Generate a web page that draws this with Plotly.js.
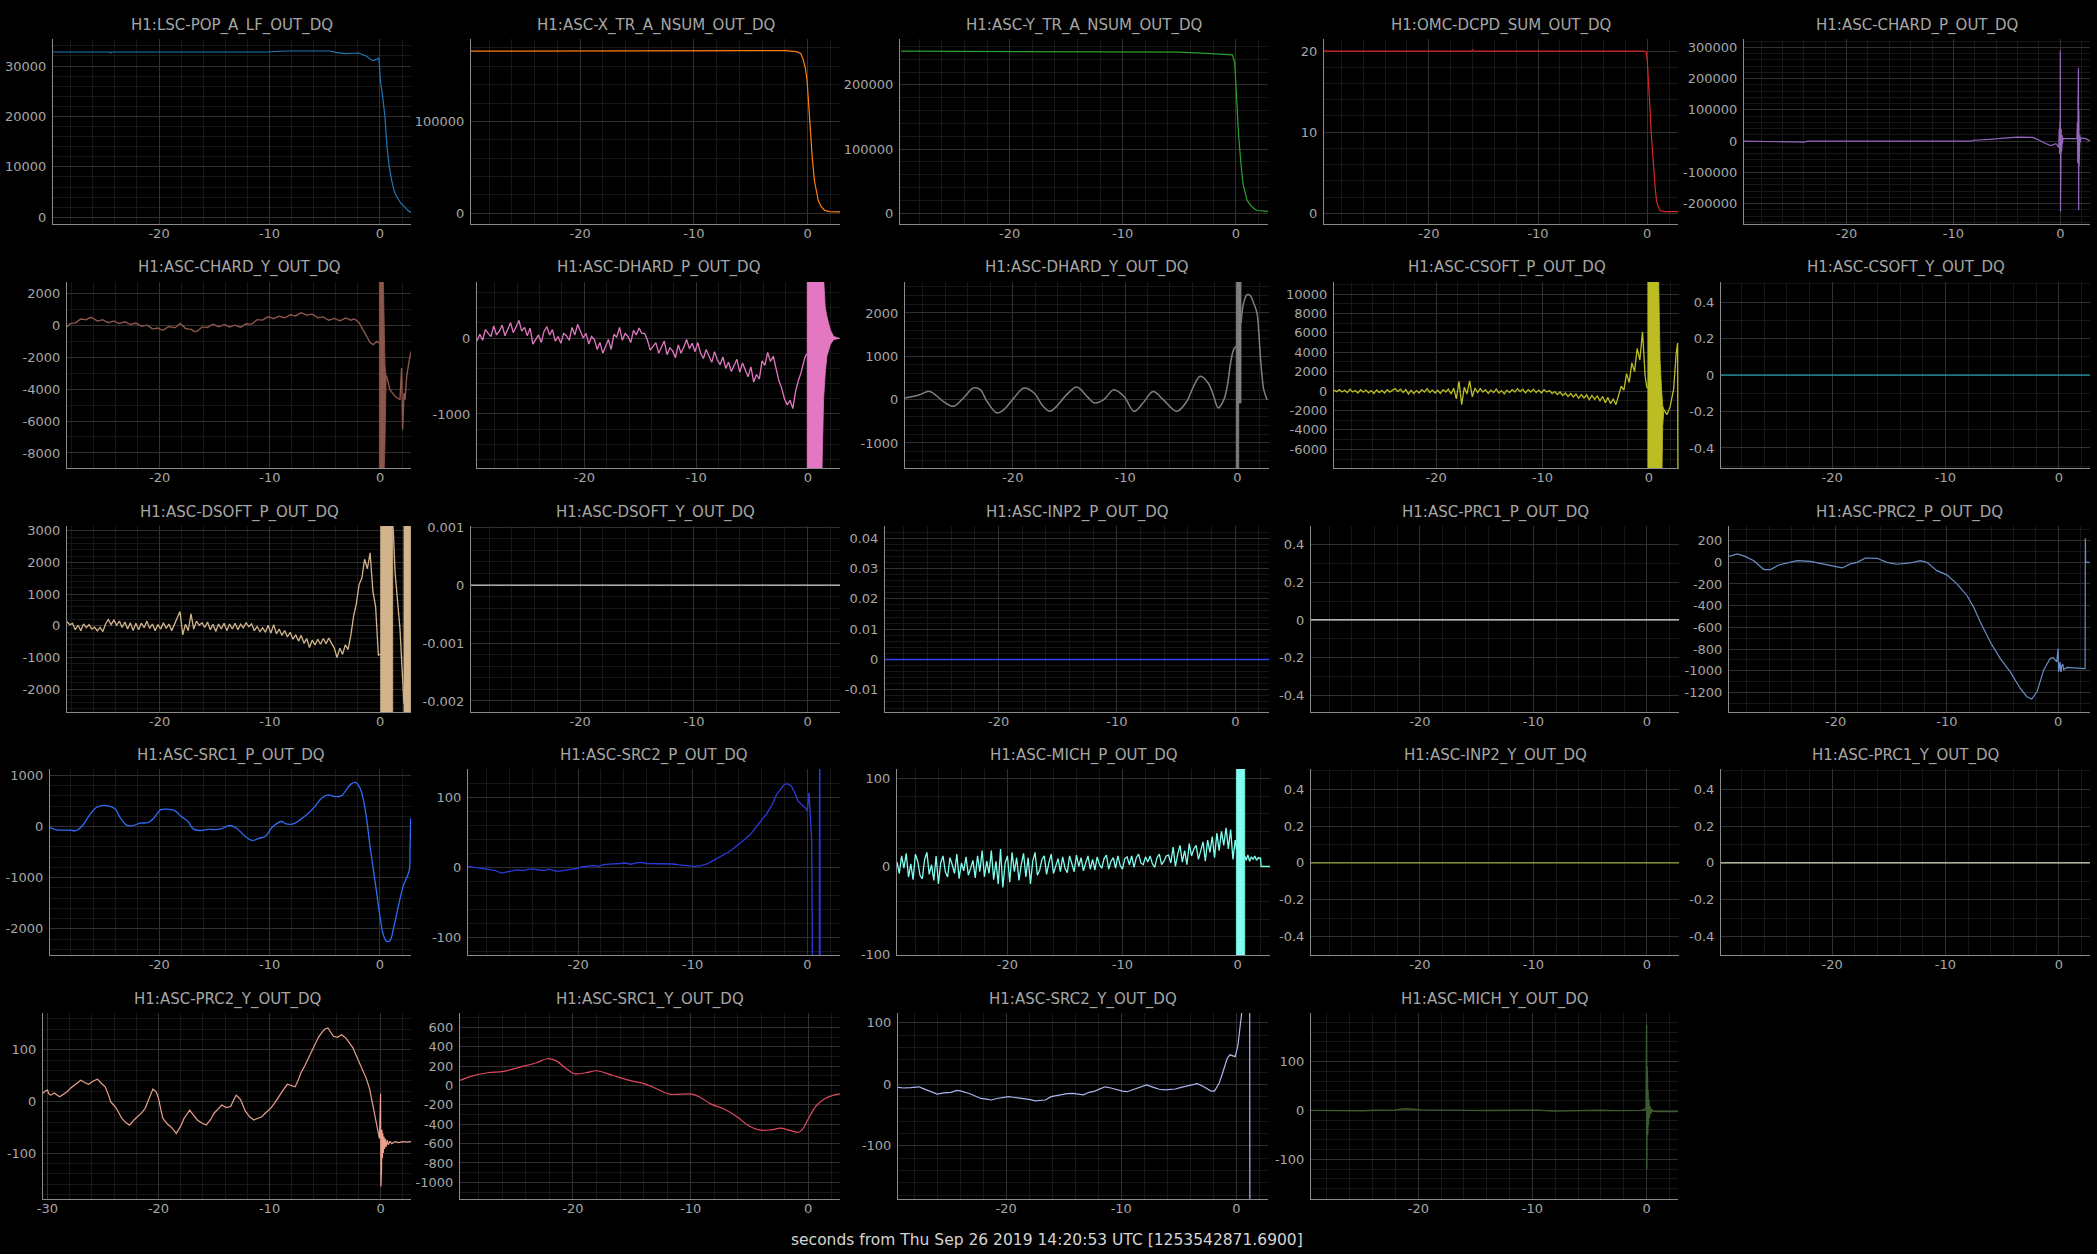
<!DOCTYPE html>
<html>
<head>
<meta charset="utf-8">
<script src="https://cdn.plot.ly/plotly-3.0.1.min.js"></script>
<style>html,body{margin:0;padding:0;background:#000;}#chart{width:2097px;height:1254px;}</style>
</head>
<body>
<div id="chart"></div>
<script>
// ---------------- DATA ----------------
const TITLES = ['H1:LSC-POP_A_LF_OUT_DQ','H1:ASC-X_TR_A_NSUM_OUT_DQ','H1:ASC-Y_TR_A_NSUM_OUT_DQ','H1:OMC-DCPD_SUM_OUT_DQ','H1:ASC-CHARD_P_OUT_DQ',
 'H1:ASC-CHARD_Y_OUT_DQ','H1:ASC-DHARD_P_OUT_DQ','H1:ASC-DHARD_Y_OUT_DQ','H1:ASC-CSOFT_P_OUT_DQ','H1:ASC-CSOFT_Y_OUT_DQ',
 'H1:ASC-DSOFT_P_OUT_DQ','H1:ASC-DSOFT_Y_OUT_DQ','H1:ASC-INP2_P_OUT_DQ','H1:ASC-PRC1_P_OUT_DQ','H1:ASC-PRC2_P_OUT_DQ',
 'H1:ASC-SRC1_P_OUT_DQ','H1:ASC-SRC2_P_OUT_DQ','H1:ASC-MICH_P_OUT_DQ','H1:ASC-INP2_Y_OUT_DQ','H1:ASC-PRC1_Y_OUT_DQ',
 'H1:ASC-PRC2_Y_OUT_DQ','H1:ASC-SRC1_Y_OUT_DQ','H1:ASC-SRC2_Y_OUT_DQ','H1:ASC-MICH_Y_OUT_DQ'];
const XLABEL = 'seconds from Thu Sep 26 2019 14:20:53 UTC [1253542871.6900]';
const XTICKS = [-30,-20,-10,0];

const FLAT_T = [-31, 3];
const FLAT_V = [0, 0];

const LSC_T = [-29.6,-24.5,-24.4,-24.3,-10.3,-9.6,-8.5,-4.6,-4.0,-3.1,-1.9,-1.3,-0.66,-0.36,-0.12,-0.06,0.03,0.24,0.45,0.63,0.84,1.05,1.3,1.6,1.9,2.2,2.65,2.81];
const LSC_V = [32780,32780,32580,32780,32780,32900,32980,32980,32700,32450,32580,32050,31060,31260,31590,30600,27290,23970,20000,14040,10070,7420,5100,3780,2780,2120,1130,990];

const XTR_T = [-29.6,-20,-10,-5,-2,-1,-0.6,-0.4,-0.2,-0.05,0.1,0.25,0.4,0.6,0.8,0.95,1.2,1.5,1.9,2.3,2.85];
const XTR_V = [176500,176500,176700,177000,177000,176000,174000,167600,158000,145600,118000,86800,62000,35300,20000,13200,7000,3000,1800,1500,1500];

const YTR_T = [-29.6,-20,-10,-5,-3,-1,-0.3,-0.1,0.0,0.12,0.24,0.36,0.48,0.65,0.83,1.0,1.3,1.6,1.9,2.85];
const YTR_V = [252600,252300,252000,251000,249500,248000,247000,235000,208000,165000,124000,95000,71600,45000,29500,20000,12600,7500,4200,3000];

const OMC_T = [-29.6,-16.1,-16.0,-15.9,-0.3,-0.1,0.0,0.12,0.25,0.37,0.5,0.62,0.75,0.86,1.0,1.2,1.6,2.85];
const OMC_V = [20,20,20.15,20,20,19.9,19,16.5,13,9.8,7,4.8,2.8,1.5,0.8,0.3,0.2,0.2];

const CHP_T = [-29.6,-28,-27.5,-24.2,-24,-23.6,-20,-8.3,-8.1,-6.8,-6.6,-5.8,-5.6,-4,-2.6,-2,-1.5,-0.9,-0.4,-0.15,-0.1,-0.07,-0.04,-0.01,0.0,0.02,0.04,0.06,0.08,0.1,0.12,0.14,0.17,0.2,0.23,0.26,0.3,1.0,1.55,1.6,1.63,1.66,1.68,1.7,1.72,1.74,1.76,1.78,1.8,1.83,1.86,1.9,2.0,2.4,2.8];
const CHP_V = [0,-1000,-1500,-2000,-3000,0,0,0,3000,4000,6000,8000,9000,13000,12000,4000,-6000,-14000,-8000,-20000,40000,-40000,60000,-30000,290000,-225000,30000,-50000,40000,-35000,30000,-25000,20000,-10000,12000,5000,8000,8000,8000,60000,-70000,120000,-120000,235000,-220000,100000,-80000,40000,-30000,20000,-5000,10000,10000,8000,0];

const CHY_T0 = -28.4, CHY_DT = 0.25;
const CHY_V = [-125,68,120,120,260,375,350,325,440,470,360,255,290,330,230,145,200,255,170,90,150,200,110,25,80,120,20,-80,-40,-10,-120,-240,-220,-185,-290,-315,-200,-95,-130,-175,-80,100,-40,-220,-260,-260,-400,-410,-280,-135,-130,-155,-40,40,-20,-105,-50,25,-40,-125,-70,-10,-90,-135,-40,80,60,55,190,325,320,305,430,515,460,395,470,555,500,450,540,640,600,570,680,760,700,605,650,680,570,455,480,505,390,300,350,410,330,265,340,430,380,305,370,300,150,-175,-500,-800,-1100];
const CHY_END_T = [-0.9,-0.6,-0.3,-0.06];
const CHY_END_V = [-1100,-1230,-1020,-1120];
const CHY_BAND_T = [-0.06,-0.06,0.3,0.36,0.45,0.55,0.55,0.45,0.36];
const CHY_BAND_V = [-9500,3000,3000,100,-2500,-3200,-3400,-7400,-9500];
const CHY_TAIL_T = [0.55,0.6,0.9,1.36,1.81,1.96,2.05,2.18,2.27,2.42,2.66,2.81];
const CHY_TAIL_V = [-3200,-3200,-4040,-4460,-4670,-2690,-6540,-4250,-4670,-3200,-2170,-1650];

const DHP_T0 = -29.6, DHP_DT = 0.25;
const DHP_V = [-40,50,-30,110,60,20,160,40,90,170,
 30,120,200,70,160,230,90,140,30,130,
 -80,-10,40,-60,90,150,40,110,-40,20,
 -70,60,30,-30,140,40,180,90,0,60,
 -80,20,-20,-150,-60,-200,-110,-20,-150,50,
 10,140,-30,60,20,-60,100,40,130,60,
 60,-30,-160,-110,-60,-200,-120,-40,-220,-130,
 -170,-260,-90,-200,-120,-20,-140,-70,-180,-60,
 -200,-270,-150,-240,-320,-180,-290,-350,-250,-400,
 -320,-440,-370,-280,-450,-330,-420,-510,-380,-580,
 -480,-540,-300,-360,-190,-310,-240,-420,-560,-660,
 -800,-880,-820,-930,-700,-560,-450,-300];
const DHP_END_T = [-0.35,-0.2,-0.06];
const DHP_END_V = [-300,-230,-206];
const DHP_BAND_T = [-0.06,-0.06,1.4,1.45,1.55,1.7,2.0,2.3,2.85,2.85,2.3,2.0,1.7,1.55,1.4,1.28,1.25];
const DHP_BAND_V = [-1800,800,800,640,400,285,110,20,0,-5,-20,-88,-241,-460,-811,-1316,-1800];

const DHY_T = [-29.6,-28.3,-27.4,-26.2,-25.3,-24.4,-23.5,-22.9,-22.3,-21.4,-20.8,-19.9,-19.0,-18.1,-17.3,-16.7,-16.1,-15.2,-14.3,-13.4,-12.7,-11.9,-11.0,-10.1,-9.2,-8.4,-7.5,-6.6,-5.4,-4.5,-3.9,-3.3,-2.6,-2.1,-1.7,-1.2,-0.9,-0.6,-0.33,-0.1];
const DHY_V = [38,115,190,-38,-154,38,270,230,-38,-308,-230,38,270,154,-154,-270,-154,115,292,77,-77,0,230,77,-270,-77,190,0,-270,-38,308,540,385,77,-190,0,308,846,1154,1230];
const DHY_BAND_T = [-0.1,-0.1,0.33,0.33,0.12,0.12];
const DHY_BAND_V = [-1800,3000,3000,-77,-77,-1800];
const DHY_TAIL_T = [0.33,0.56,0.86,1.15,1.45,1.75,1.9,2.05,2.2,2.35,2.65];
const DHY_TAIL_V = [1770,2230,2420,2400,2230,2000,1600,1000,550,230,0];

const CSP_T0 = -29.6, CSP_DT = 0.25;
const CSP_V = [120,-60,150,-100,80,-150,200,-80,60,-200,150,-120,100,-180,50,-250,120,-150,80,-200,150,-100,100,250,-50,200,-150,150,-300,80,-250,50,-200,150,-100,250,-150,100,-200,80,-250,150,-100,200,-300,300,-800,1000,-1400,400,-300,1050,-600,300,-150,250,-100,150,-250,100,-150,200,-200,50,-300,100,-150,150,-100,250,-50,200,-200,150,-100,200,-150,100,-200,150,-100,50,-250,-50,-350,-100,-450,-200,-550,-250,-600,-300,-750,-350,-700,-400,-900,-450,-850,-500,-1000,-550,-1200,-650,-1300,-800,-1400,-300,500,100,1800,900,2900,2000,4400,3200,6100,1500];
const CSP_END_T = [-0.35,-0.2,-0.1];
const CSP_END_V = [1500,400,300];
const CSP_BAND_T = [-0.1,-0.1,0.9,0.95,1.05,1.2,1.3,1.4,1.4,1.3,1.22,-0.1];
const CSP_BAND_V = [-9000,12500,12500,7700,3200,0,-1500,-1900,-2100,-3500,-9000,-9000];
const CSP_TAIL_T = [1.4,1.7,2.0,2.32,2.57,2.7,2.73,2.75];
const CSP_TAIL_V = [-1920,-2440,-1580,140,3920,4950,-9000,-9000];

const DSP_T0 = -28.4, DSP_DT = 0.25;
const DSP_V = [130,40,80,-120,20,-150,60,-60,40,-100,-40,-160,-50,-180,60,200,40,180,20,150,-50,120,-100,100,-150,80,-120,90,-60,150,-80,60,-150,40,-100,100,-80,60,-150,50,250,450,-280,50,-150,380,-100,150,20,100,-50,120,-120,50,-180,60,-100,80,-150,60,-100,80,-120,50,-60,100,-30,60,-150,-20,-180,-60,-200,20,-230,40,-250,-100,-300,-150,-350,-200,-420,-280,-480,-300,-550,-400,-680,-450,-600,-420,-580,-400,-560,-380,-550,-700,-1000,-700,-900,-600,-750,-300,300,700,1300,1500,2100,1800,2300,1100,600,-937];
const DSP_END_T = [-0.15,-0.06,0.06];
const DSP_END_V = [-937,-900,-900];
const DSP_BAND1_T = [0.06,0.06,1.15,1.15];
const DSP_BAND2_T = [2.17,2.17,2.78,2.78];
const DSP_BAND_V = [-3000,3300,3300,-3000];
const DSP_MID_T = [1.15,1.21,1.36,1.5,1.81,2.1,2.17];
const DSP_MID_V = [3200,2958,1700,1170,-95,-2000,-2460];

const PR2P_T = [-29.58,-28.86,-28.1,-27.37,-26.47,-25.87,-25.12,-24.07,-23.47,-22.28,-21.08,-20.03,-19.43,-18.68,-18.08,-17.34,-16.29,-15.39,-14.49,-13.29,-12.4,-11.8,-10.9,-10.0,-9.1,-8.2,-7.6,-7.0,-6.1,-5.2,-4.3,-3.4,-2.8,-2.37,-1.9,-1.3,-0.72,-0.42,-0.12,0.0,0.04,0.09,0.13,0.18,0.22,0.27,0.33,0.42,0.5,0.63,0.8,1.08,1.8,2.43,2.45,2.48,2.85];
const PR2P_V = [55,77,52,15,-67,-67,-25,0,15,9,-15,-37,-52,-15,0,40,37,0,-18,-6,15,0,-77,-116,-199,-306,-413,-551,-735,-888,-1011,-1164,-1240,-1262,-1195,-995,-888,-879,-919,-796,-1010,-980,-940,-919,-1000,-1011,-950,-940,-990,-980,-970,-971,-975,-980,221,0,0];

const SR1P_T = [-29.9,-29.3,-28.1,-27.5,-26.9,-26.3,-25.7,-24.8,-24.0,-23.6,-23.0,-22.5,-21.75,-21.0,-20.5,-19.9,-19.3,-18.6,-18.0,-17.4,-16.9,-16.3,-15.7,-14.5,-13.6,-13.0,-12.2,-11.6,-10.9,-10.4,-9.7,-8.9,-8.5,-7.85,-7.25,-6.65,-5.9,-5.3,-4.7,-4.1,-3.5,-3.0,-2.6,-2.2,-1.8,-1.5,-1.2,-0.9,-0.6,-0.3,0,0.3,0.6,0.9,1.2,1.66,2.1,2.66,2.72,2.78];
const SR1P_V = [-20,-65,-72,-78,33,228,371,410,345,195,33,13,65,78,163,325,338,312,195,98,-52,-78,-59,-52,20,-33,-195,-273,-228,-195,0,98,52,52,130,228,390,553,618,585,598,735,833,859,748,520,130,-390,-846,-1301,-1757,-2115,-2245,-2232,-2017,-1561,-1171,-846,-455,163];

const SR2P_T = [-29.6,-29.1,-28.6,-28.1,-27.7,-27.2,-26.7,-26.2,-25.8,-25.3,-24.8,-24.3,-23.9,-23.4,-23.0,-22.5,-22.0,-21.6,-21.1,-20.6,-20.1,-19.7,-19.2,-18.7,-18.2,-17.8,-17.3,-16.8,-16.3,-15.9,-15.4,-14.9,-14.5,-14.0,-13.5,-13.1,-12.6,-12.1,-11.65,-11.2,-10.7,-10.2,-9.8,-9.3,-8.8,-8.35,-7.9,-7.4,-6.9,-6.5,-6.0,-5.5,-5.0,-4.6,-4.1,-3.6,-3.1,-2.7,-2.3,-2.0,-1.7,-1.37,-1.1,-0.8,-0.55,-0.33,-0.15,0.0,0.14,0.24,0.38,0.47,1.04,1.08,1.12,2.85];
const SR2P_V = [1,0,-1.4,-2,-3.8,-5,-8.6,-7,-6,-4,-5,-3,-3,-4,-5,-3,-6,-6,-5,-4,-2,0,1,2,1,3.3,4,4,5,5.7,4,6,6.7,5,5,4.8,5,4,4.3,3,2,1.4,1,2,4,8,12,16,21,25.7,32,39,46,54,64,75,88,103,112,118,119,115,106,94,90,87,84,80,106,80,39,-200,-200,300,-300,-300];

const MCP_T0 = -29.6, MCP_DT = 0.2;
const MCP_V = [5,-8,12,-2,15,-12,3,-15,14,6,
 -10,-14,8,16,-9,2,-16,12,-20,4,
 12,-6,-12,10,2,-8,14,-14,4,-5,
 11,-10,-2,7,-13,12,-6,18,-12,6,
 -8,18,-15,6,-20,20,-24,4,12,-18,
 16,-6,10,-16,2,15,-12,10,-20,6,
 16,-10,-4,8,12,-9,4,14,-8,2,
 9,-6,11,-2,-7,12,4,-6,13,0,
 10,-5,4,12,-3,8,-4,11,2,-2,
 9,13,-3,6,10,-2,12,1,-3,9,
 11,2,12,-1,10,14,4,2,11,5,
 12,3,-1,10,14,2,6,12,13,4,
 22,0,14,24,5,18,2,26,12,20,
 24,8,18,28,6,30,16,34,10,38,
 18,40,24,44,20,42,8,30];
const MCP_END_T = [-0.2,-0.1];
const MCP_END_V = [30,20];
const MCP_BAND_T = [-0.1,-0.1,0.62,0.62];
const MCP_BAND_V = [-120,120,120,-120];
const MCP_TAIL_T = [0.62,0.75,0.9,1.05,1.2,1.35,1.5,1.65,1.8,1.95,2.0,2.04,2.85];
const MCP_TAIL_V = [12,7,13,6,11,8,12,7,10,9,10,0,0];

const PR2Y_T = [-30.4,-30.2,-30.0,-29.85,-29.7,-29.4,-28.9,-28.6,-28.2,-27.9,-27.5,-27.2,-27.0,-26.6,-26.3,-25.9,-25.5,-25.2,-24.8,-24.5,-24.3,-24.0,-23.8,-23.5,-23.3,-22.9,-22.6,-22.2,-21.9,-21.5,-21.2,-20.8,-20.5,-20.2,-20.0,-19.8,-19.6,-19.2,-18.9,-18.6,-18.4,-18.0,-17.7,-17.4,-17.2,-16.8,-16.5,-16.1,-15.7,-15.3,-15.0,-14.6,-14.3,-13.9,-13.5,-13.2,-13.0,-12.8,-12.6,-12.2,-11.8,-11.4,-11.1,-10.7,-10.4,-10.1,-9.9,-9.5,-9.1,-8.7,-8.4,-8.0,-7.7,-7.4,-7.2,-6.8,-6.45,-6.2,-5.97,-5.6,-5.23,-5.0,-4.74,-4.5,-4.25,-3.9,-3.5,-3.1,-2.8,-2.5,-2.3,-2.0,-1.8,-1.5,-1.3,-1.0,-0.83,-0.6,-0.34,-0.1,0.0,0.03,0.06,0.09,0.12,0.16,0.2,0.25,0.3,0.36,0.42,0.5,0.6,0.7,0.85,1.0,1.3,1.6,2.0,2.4,2.74];
const PR2Y_V = [15.5,20,22,14,12,16,9,13,19,26,32,38,41,36,33,39,43,36,28,12,-1,-8,-13.5,-25,-33,-42,-46,-36,-30,-22,-13.5,8,24,18,6,-15,-33,-44,-49,-56,-62,-48,-33,-24,-17,-28,-36,-42,-46,-35,-23,-14,-7,-12,-10,4,12,8,3,-18,-30,-36,-33,-30,-23,-18,-13.5,-2,12,24,33,30,28,42,54,70,86,98,110,124,135,140,142,134,126,124,129,122,113,104,94,80,70,56,45,25,6,-20,-46,-72,15,-165,-40,-130,-55,-110,-62,-100,-68,-92,-72,-88,-75,-84,-77,-82,-78,-80,-78,-79,-78];

const SR1Y_T = [-29.6,-28.6,-27.25,-25.9,-24.5,-23.1,-22.2,-21.5,-20.55,-19.9,-18.9,-18.0,-16.6,-15.2,-13.9,-12.9,-11.8,-10.85,-9.9,-9.2,-8.3,-7.2,-6.0,-5.1,-4.2,-3.2,-2.3,-1.5,-0.83,-0.46,0,0.7,1.4,2.1,2.7];
const SR1Y_V = [52,97,131,145,190,234,276,259,172,121,131,152,103,52,17,-34,-90,-90,-90,-121,-190,-241,-328,-414,-459,-459,-441,-466,-483,-448,-345,-207,-138,-103,-86];

const SR2Y_T = [-29.4,-28.9,-28.3,-27.6,-27.2,-26.9,-26.4,-26.0,-25.4,-24.8,-24.3,-23.9,-23.2,-22.7,-22.2,-21.7,-21.3,-20.8,-20.3,-19.8,-19.4,-18.9,-18.4,-17.9,-17.5,-17.0,-16.6,-16.1,-15.6,-15.2,-14.7,-14.2,-13.7,-13.3,-12.8,-12.3,-11.8,-11.4,-10.9,-10.4,-9.9,-9.5,-9.0,-8.6,-8.2,-7.8,-7.2,-6.7,-6.2,-5.7,-5.3,-4.8,-4.3,-3.8,-3.4,-2.9,-2.5,-2.2,-1.9,-1.5,-1.2,-1.0,-0.8,-0.56,-0.3,-0.1,0.14,0.38,0.52,0.6,1.15,1.18,2.8];
const SR2Y_V = [-5,-6,-5.4,-4,-7,-9,-13,-16,-14,-13,-10,-11,-15,-19,-23,-24,-25.5,-23,-22,-20,-21,-22,-23,-25,-27,-26,-25.5,-20,-18,-17,-15,-14.6,-16,-17,-13,-11,-7,-4,-6,-9,-11,-12,-9,-6.5,-3,-1,-5,-8,-9,-8,-7.6,-5,-2.7,0,1,-3,-8,-11,-11,1.6,18,31,42,48,46,45,64,96,125,300,300,-300,-300];

const MCY_T = [-29.4,-28,-26.5,-25,-23.5,-22.2,-21.6,-21.0,-20.4,-19.8,-18.5,-17,-15.5,-14,-12.5,-11,-9.5,-8.2,-7,-5.5,-4,-2.5,-1.2,-0.4,-0.05,0.0,0.02,0.04,0.06,0.08,0.1,0.13,0.16,0.2,0.25,0.3,0.37,0.45,0.55,1.2,2.75];
const MCY_V = [0,-0.5,0.3,-0.6,0.4,0,2.5,3.5,2.5,1,0.5,0.8,0,-0.3,0.2,-0.5,0.5,-1.5,-0.8,0.6,0.3,-0.4,0.5,0,4,175,-120,90,-80,65,-50,40,-30,22,-15,9,-7,3,-2,-2.5,-2.5];

// y ranges and tick values per panel
const YRANGES = [[-1325,35360],[-11760,189700],[-16800,271600],[-1.33,21.5],[-265000,326900],
 [-8938,2688],[-1711,737],[-1577,2715],[-7923,11236],[-0.51,0.51],
 [-2714,3147],[-0.00219,0.00102],[-0.0173,0.044],[-0.49,0.5],[-1381,335],
 [-2511,1124],[-125.7,140],[-100.8,111],[-0.5,0.51],[-0.5,0.51],
 [-189,171],[-1172,748],[-186.5,116],[-181,199]];
const YTICKS = [[0,10000,20000,30000],[0,100000],[0,100000,200000],[0,10,20],[-200000,-100000,0,100000,200000,300000],
 [-8000,-6000,-4000,-2000,0,2000],[-1000,0],[-1000,0,1000,2000],[-6000,-4000,-2000,0,2000,4000,6000,8000,10000],[-0.4,-0.2,0,0.2,0.4],
 [-2000,-1000,0,1000,2000,3000],[-0.002,-0.001,0,0.001],[-0.01,0,0.01,0.02,0.03,0.04],[-0.4,-0.2,0,0.2,0.4],[-1200,-1000,-800,-600,-400,-200,0,200],
 [-2000,-1000,0,1000],[-100,0,100],[-100,0,100],[-0.4,-0.2,0,0.2,0.4],[-0.4,-0.2,0,0.2,0.4],
 [-100,0,100],[-1000,-800,-600,-400,-200,0,200,400,600],[-100,0,100],[-100,0,100]];
const YMINOR = [2000,20000,20000,2,20000, 1000,200,200,1000,0.1, 200,0.0002,0.002,0.1,100, 200,20,20,0.1,0.1, 20,100,20,20];
const XRANGES = [[-29.6,2.81],[-29.6,2.85],[-29.7,2.85],[-29.6,2.82],[-29.6,2.78],
 [-28.4,2.81],[-29.6,2.87],[-29.6,2.82],[-29.6,2.83],[-29.8,2.75],
 [-28.4,2.81],[-29.6,2.85],[-29.6,2.85],[-29.6,2.82],[-29.6,2.87],
 [-29.9,2.81],[-29.6,2.85],[-29.6,2.82],[-29.6,2.82],[-29.8,2.75],
 [-30.4,2.74],[-29.6,2.7],[-29.4,2.75],[-29.4,2.75]];

// ---------------- STYLE / LAYOUT ----------------
const W = 2097, H = 1254;
const ROWPX = [[39,224],[282,468],[526,712],[769,955],[1013,1199]];
const COLPX = [[53,411],[471,840],[900,1268],[1324,1678],[1744,2090],
 [67,411],[477,840],[905,1269],[1334,1679],[1721,2090],
 [67,411],[471,840],[885,1269],[1311,1679],[1729,2090],
 [50,411],[468,840],[897,1270],[1311,1679],[1721,2090],
 [43,411],[460,840],[898,1268],[1311,1678]];
const COLORS = ['#1f77b4','#ff7f0e','#2ca02c','#d62728','#9467bd',
 '#8c564b','#e377c2','#7f7f7f','#bcbd22','#17becf',
 '#d2b48c','#cfcfcf','#3344ee','#e6e6e6','#6b8ec6',
 '#2f6cf5','#2a3ad8','#80fff0','#98a83a','#d8d8c0',
 '#e9a08c','#dc4a5e','#aab4ee','#3d5a2c'];
const WIDTHS = [1.2,1.2,1.2,1.2,1.2, 1.4,1.3,1.5,1.3,1.2, 1.3,1.2,1.5,1.2,1.2, 1.3,1.3,1.3,1.3,1.2, 1.2,1.2,1.2,1.4];

const seg = (x, y, o) => Object.assign({x, y}, o || {});
const useq = (x0, dx, y) => ({x0, dx, y});
const PANEL_TRACES = [
 [seg(LSC_T, LSC_V)],
 [seg(XTR_T, XTR_V)],
 [seg(YTR_T, YTR_V)],
 [seg(OMC_T, OMC_V)],
 [seg(CHP_T, CHP_V)],
 [useq(CHY_T0, CHY_DT, CHY_V), seg(CHY_END_T, CHY_END_V), seg(CHY_BAND_T, CHY_BAND_V, {fill:true}), seg(CHY_TAIL_T, CHY_TAIL_V)],
 [useq(DHP_T0, DHP_DT, DHP_V), seg(DHP_END_T, DHP_END_V), seg(DHP_BAND_T, DHP_BAND_V, {fill:true})],
 [seg(DHY_T, DHY_V, {spline:true}), seg(DHY_BAND_T, DHY_BAND_V, {fill:true}), seg(DHY_TAIL_T, DHY_TAIL_V, {spline:true})],
 [useq(CSP_T0, CSP_DT, CSP_V), seg(CSP_END_T, CSP_END_V), seg(CSP_BAND_T, CSP_BAND_V, {fill:true}), seg(CSP_TAIL_T, CSP_TAIL_V)],
 [seg(FLAT_T, FLAT_V)],
 [useq(DSP_T0, DSP_DT, DSP_V), seg(DSP_END_T, DSP_END_V), seg(DSP_BAND1_T, DSP_BAND_V, {fill:true}), seg(DSP_MID_T, DSP_MID_V), seg(DSP_BAND2_T, DSP_BAND_V, {fill:true})],
 [seg(FLAT_T, FLAT_V)],
 [seg(FLAT_T, FLAT_V)],
 [seg(FLAT_T, FLAT_V)],
 [seg(PR2P_T, PR2P_V)],
 [seg(SR1P_T, SR1P_V, {spline:true})],
 [seg(SR2P_T, SR2P_V)],
 [useq(MCP_T0, MCP_DT, MCP_V), seg(MCP_END_T, MCP_END_V), seg(MCP_BAND_T, MCP_BAND_V, {fill:true}), seg(MCP_TAIL_T, MCP_TAIL_V)],
 [seg(FLAT_T, FLAT_V)],
 [seg(FLAT_T, FLAT_V)],
 [seg(PR2Y_T, PR2Y_V)],
 [seg(SR1Y_T, SR1Y_V, {spline:true})],
 [seg(SR2Y_T, SR2Y_V)],
 [seg(MCY_T, MCY_V)]
];

const FONT = 'DejaVu Sans, Verdana, sans-serif';
const TXT = '#a6a6a6';
const MAJ = '#303030';
const MIN = '#171717';
const AXL = '#8a8a8a';

const traces = [];
const layout = {
  width: W, height: H, margin: {l:0, r:0, t:0, b:0, pad:0},
  paper_bgcolor: '#000', plot_bgcolor: '#000',
  showlegend: false, hovermode: false,
  annotations: []
};

const fmt = v => String(v);

for (let i = 0; i < 24; i++) {
  const n = i + 1;
  const xa = n === 1 ? 'x' : 'x' + n;
  const ya = n === 1 ? 'y' : 'y' + n;
  const row = Math.floor(i / 5);
  const [top, bot] = ROWPX[row];
  const [lft, rgt] = COLPX[i];
  PANEL_TRACES[i].forEach(s => {
    const t = {type:'scatter', mode:'lines', xaxis:xa, yaxis:ya, y:s.y,
      line:{color:COLORS[i], width:WIDTHS[i], shape: s.spline ? 'spline' : 'linear'}, hoverinfo:'skip'};
    if (s.x) t.x = s.x; else { t.x0 = s.x0; t.dx = s.dx; }
    if (s.fill) { t.fill = 'toself'; t.fillcolor = COLORS[i]; t.line.width = 0.8; }
    traces.push(t);
  });
  const common = {
    showgrid: true, gridcolor: MAJ, gridwidth: 1, zeroline: false,
    showline: true, linecolor: AXL, linewidth: 1,
    tickfont: {family: FONT, size: 13, color: TXT},
    tickmode: 'array', fixedrange: true
  };
  layout['xaxis' + (n === 1 ? '' : n)] = Object.assign({}, common, {
    domain: [lft / W, rgt / W], anchor: ya, range: XRANGES[i],
    ticks: '', ticklabelstandoff: -3,
    tickvals: XTICKS, ticktext: XTICKS.map(fmt),
    minor: {tickmode: 'linear', tick0: 0, dtick: 2, showgrid: true, gridcolor: MIN, gridwidth: 1, ticks: ''}
  });
  layout['yaxis' + (n === 1 ? '' : n)] = Object.assign({}, common, {
    domain: [1 - bot / H, 1 - top / H], anchor: xa, range: YRANGES[i],
    ticks: 'outside', ticklen: 3, tickcolor: 'rgba(0,0,0,0)',
    tickvals: YTICKS[i], ticktext: YTICKS[i].map(fmt),
    minor: {tickmode: 'linear', tick0: 0, dtick: YMINOR[i], showgrid: true, gridcolor: MIN, gridwidth: 1, ticks: ''}
  });
  layout.annotations.push({
    text: TITLES[i], xref: 'paper', yref: 'paper',
    x: (lft + rgt) / 2 / W, y: 1 - (top - 14) / H,
    xanchor: 'center', yanchor: 'middle', showarrow: false,
    font: {family: FONT, size: 15, color: TXT}
  });
}
layout.annotations.push({
  text: XLABEL, xref: 'paper', yref: 'paper', x: 1047 / W, y: 1 - 1240 / H,
  xanchor: 'center', yanchor: 'middle', showarrow: false,
  font: {family: FONT, size: 15.5, color: '#d4d4d4'}
});

Plotly.newPlot('chart', traces, layout, {staticPlot: true, displayModeBar: false});
</script>
</body>
</html>
